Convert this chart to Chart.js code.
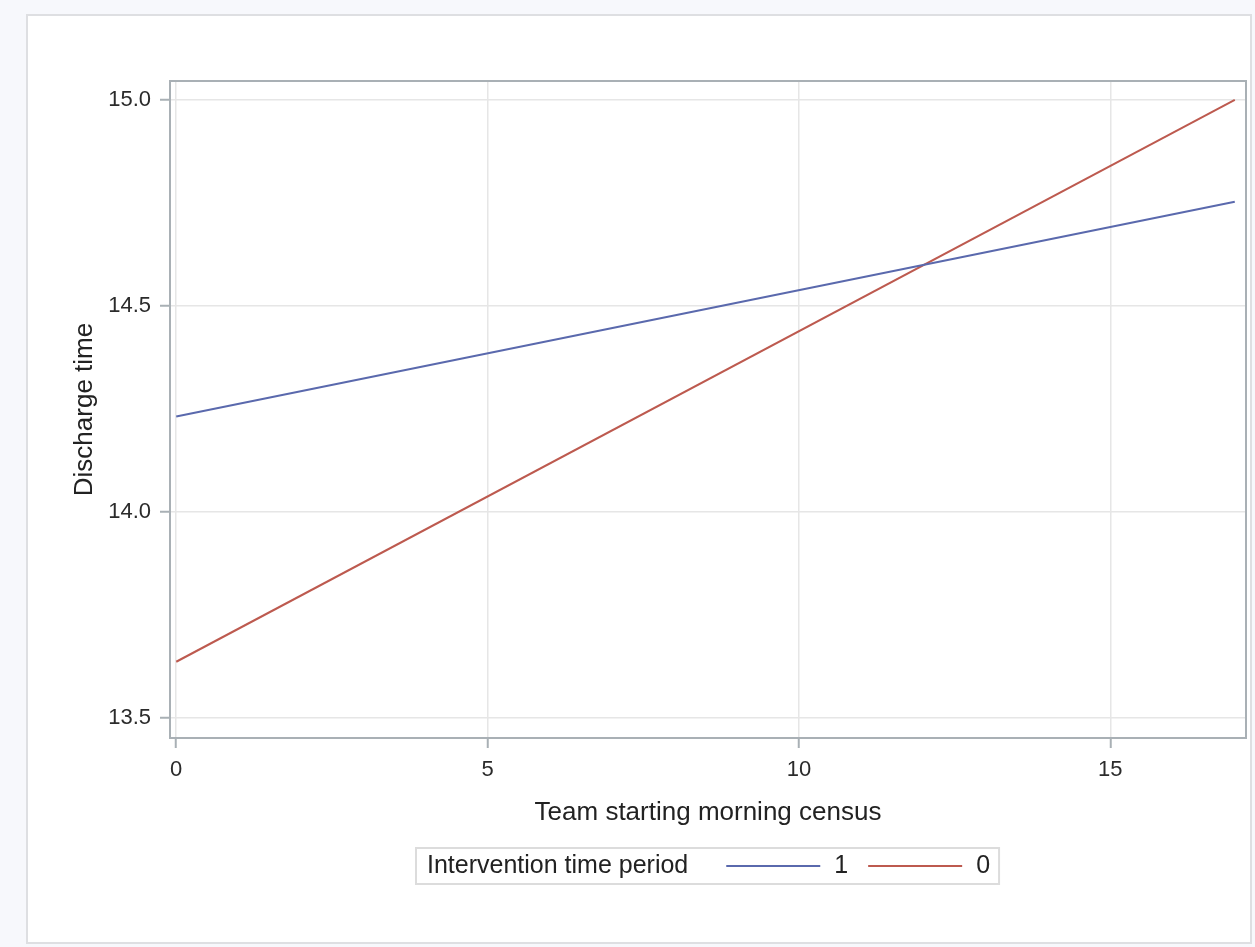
<!DOCTYPE html>
<html>
<head>
<meta charset="utf-8">
<script src="https://cdn.jsdelivr.net/npm/chart.js@4.4.1/dist/chart.umd.min.js"></script>
<style>
  html, body { margin: 0; padding: 0; background: #f7f8fc; }
  #panel {
    position: absolute; left: 26px; top: 14px; width: 1222px; height: 926px;
    background: #ffffff; border: 2px solid #dedfe2;
  }
  #wrap { position: absolute; left: 0; top: 0; width: 1255px; height: 947px; }
</style>
</head>
<body>
<div id="panel"></div>
<div id="wrap"><canvas id="chart" width="1255" height="947"></canvas></div>
<script>
const censusValues = [0, 17];
const period1Values = [14.232, 14.753];
const period0Values = [13.637, 15.0];
const seriesLabels = ["1", "0"];
const seriesColors = ["#5a69ad", "#bd5a4f"];
const xTickValues = [0, 5, 10, 15];
const yTickValues = [13.5, 14.0, 14.5, 15.0];
const legendTitle = "Intervention time period";
const xTitle = "Team starting morning census";
const yTitle = "Discharge time";

const FONT = "'Liberation Sans', Arial, Helvetica, sans-serif";
const FRAME = "#a9b0b5";

function toPoints(values) {
  return censusValues.map((x, i) => ({ x: x, y: values[i] }));
}

// full frame round the plot area
const framePlugin = {
  id: "frame",
  afterDatasetsDraw(chart) {
    const { ctx, chartArea } = chart;
    ctx.save();
    ctx.strokeStyle = FRAME;
    ctx.lineWidth = 2;
    ctx.strokeRect(chartArea.left, chartArea.top, chartArea.right - chartArea.left, chartArea.bottom - chartArea.top);
    ctx.restore();
  },
};

// SAS style legend: title and items on one row inside a box
const inlineLegend = {
  id: "inlineLegend",
  afterDraw(chart) {
    const { ctx, chartArea } = chart;
    const y = 866;
    const lineLen = 94;
    ctx.save();
    ctx.font = `25px ${FONT}`;
    ctx.textBaseline = "middle";
    const titleW = ctx.measureText(legendTitle).width;
    let width = 11 + titleW + 38;
    const items = chart.data.datasets.map((ds) => {
      const w = ctx.measureText(ds.label).width;
      return { label: ds.label, color: ds.borderColor, w: w };
    });
    items.forEach((it, i) => { width += lineLen + 14 + it.w + (i < items.length - 1 ? 20 : 9); });
    const left = Math.round((chartArea.left + chartArea.right) / 2 - width / 2);
    ctx.fillStyle = "#ffffff";
    ctx.fillRect(left, 848, width, 36);
    ctx.strokeStyle = "#dcdcdc";
    ctx.lineWidth = 2;
    ctx.strokeRect(left, 848, width, 36);
    ctx.fillStyle = "#222";
    let x = left + 11;
    ctx.fillText(legendTitle, x, y);
    x += titleW + 38;
    items.forEach((it) => {
      ctx.strokeStyle = it.color;
      ctx.lineWidth = 2;
      ctx.beginPath();
      ctx.moveTo(x, y);
      ctx.lineTo(x + lineLen, y);
      ctx.stroke();
      x += lineLen + 14;
      ctx.fillStyle = "#222";
      ctx.fillText(it.label, x, y);
      x += it.w + 20;
    });
    ctx.restore();
  },
};

new Chart(document.getElementById("chart"), {
  type: "line",
  data: {
    datasets: [
      {
        label: seriesLabels[0],
        data: toPoints(period1Values),
        borderColor: seriesColors[0],
        borderWidth: 2,
        pointRadius: 0,
        tension: 0,
      },
      {
        label: seriesLabels[1],
        data: toPoints(period0Values),
        borderColor: seriesColors[1],
        borderWidth: 2,
        pointRadius: 0,
        tension: 0,
      },
    ],
  },
  options: {
    responsive: false,
    animation: false,
    layout: { padding: { left: 0, top: 81, right: 9, bottom: 0 } },
    plugins: {
      legend: { display: false },
      tooltip: { enabled: false },
    },
    scales: {
      x: {
        type: "linear",
        min: -0.1,
        max: 17.18,
        afterFit: (scale) => { scale.height = 209; },
        afterBuildTicks: (scale) => { scale.ticks = xTickValues.map((v) => ({ value: v })); },
        grid: { color: "#e6e6e6", lineWidth: 1.5, tickColor: FRAME, tickLength: 10, tickWidth: 2 },
        border: { display: false },
        ticks: {
          color: "#2b2b2b",
          padding: 9,
          maxRotation: 0,
          font: { family: FONT, size: 22 },
          callback: (v) => String(v),
        },
        title: {
          display: true,
          text: xTitle,
          color: "#222",
          font: { family: FONT, size: 26 },
          padding: { top: 0, bottom: 119 },
        },
      },
      y: {
        type: "linear",
        min: 13.452,
        max: 15.046,
        afterFit: (scale) => { scale.width = 170; },
        afterBuildTicks: (scale) => { scale.ticks = yTickValues.map((v) => ({ value: v })); },
        grid: { color: "#e6e6e6", lineWidth: 1.5, tickColor: FRAME, tickLength: 10, tickWidth: 2 },
        border: { display: false },
        ticks: {
          color: "#2b2b2b",
          padding: 9,
          font: { family: FONT, size: 22 },
          callback: (v) => Number(v).toFixed(1),
        },
        title: {
          display: true,
          text: yTitle,
          color: "#222",
          font: { family: FONT, size: 26 },
          padding: { top: 69, bottom: 0 },
        },
      },
    },
  },
  plugins: [framePlugin, inlineLegend],
});
</script>
</body>
</html>
